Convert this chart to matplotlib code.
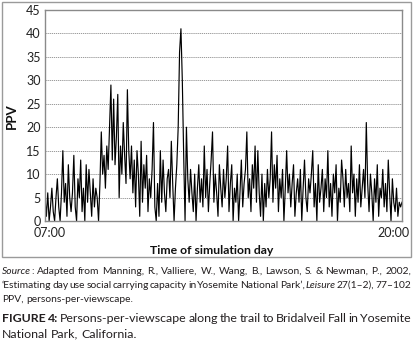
import numpy as np
import matplotlib.pyplot as plt
from matplotlib.patches import Rectangle
from matplotlib.transforms import ScaledTranslation

# persons-per-viewscape, one reading every 3 minutes from 07:00 to 20:00
ppv = [
    5, 1, 6, 0, 3, 7, 2, 0, 5, 9,
    3, 0, 6, 15, 4, 8, 1, 12, 5, 2,
    6, 14, 3, 0, 9, 5, 13, 2, 7, 0,
    12, 4, 11, 6, 1, 9, 3, 7, 5, 0,
    8, 19, 10, 14, 7, 16, 11, 20, 29, 13,
    26, 12, 18, 27, 5, 16, 10, 21, 14, 8,
    28, 15, 9, 16, 6, 13, 3, 15, 10, 1,
    17, 4, 12, 7, 14, 2, 9, 5, 11, 21,
    3, 0, 8, 1, 15, 4, 13, 6, 2, 9,
    11, 5, 17, 8, 0, 7, 12, 20, 36, 41,
    30, 14, 0, 20, 9, 4, 11, 6, 2, 10,
    0, 7, 12, 4, 9, 3, 16, 5, 11, 2,
    8, 13, 19, 4, 10, 6, 1, 12, 7, 3,
    11, 5, 9, 16, 2, 8, 12, 0, 7, 4,
    10, 0, 6, 13, 3, 8, 11, 19, 5, 9,
    2, 12, 7, 16, 4, 15, 6, 1, 10, 0,
    8, 3, 11, 5, 9, 19, 4, 12, 7, 14,
    2, 9, 5, 11, 0, 7, 15, 6, 10, 3,
    8, 12, 1, 6, 9, 4, 11, 0, 7, 13,
    5, 2, 9, 6, 10, 15, 3, 8, 0, 12,
    4, 7, 11, 2, 9, 5, 15, 3, 8, 1,
    10, 6, 12, 0, 7, 4, 13, 9, 3, 11,
    5, 8, 2, 16, 6, 10, 1, 9, 4, 12,
    3, 7, 11, 5, 21, 8, 2, 10, 6, 0,
    9, 4, 12, 1, 7, 5, 11, 3, 8, 2,
    13, 6, 0, 9, 4, 2, 7, 1, 4, 3, 4,
]
start_min = 0      # 07:00
end_min = 780      # 20:00
step_min = 3
time_labels = ['07:00', '20:00']
y_ticks = [0, 5, 10, 15, 20, 25, 30, 35, 40, 45]

plt.rcParams['font.family'] = ['Lato', 'DejaVu Sans']

W, H = 413, 341
fig = plt.figure(figsize=(W / 100, H / 100), dpi=100)

def px(x, y):
    return x / W, 1 - y / H

# outer frame around the chart
fig.patches.append(Rectangle(px(2, 257), 409 / W, 255 / H, transform=fig.transFigure,
                             fill=False, edgecolor='#9a9a9a', lw=1))

l, t = px(45, 10)
r, b = px(402, 221)
ax = fig.add_axes([l, b, r - l, t - b])

minutes = np.arange(start_min, end_min + 1, step_min)
ax.plot(minutes, ppv, color='black', lw=0.85)

ax.set_xlim(start_min, end_min)
ax.set_ylim(0, 45)
ax.set_yticks(y_ticks)
ax.set_xticks([start_min, end_min])
ax.set_xticklabels(time_labels)
ax.tick_params(length=0, labelsize=9, colors='#222222')
ax.tick_params(axis='y', pad=3)
ax.tick_params(axis='x', pad=4)
for lab, dx in zip(ax.get_xticklabels(), [4.5, -8.5]):
    lab.set_transform(lab.get_transform() + ScaledTranslation(dx / 100, 0, fig.dpi_scale_trans))

ax.grid(axis='y', color='#8a8a8a', linestyle=(0, (1.5, 1)), lw=0.6)
for s in ax.spines.values():
    s.set_color('#8a8a8a')
    s.set_linewidth(1)

fig.text(*px(12, 116), 'PPV', rotation=90, ha='center', va='center',
         fontsize=9.5, fontweight='bold', color='#111111')
fig.text(*px(212, 250), 'Time of simulation day', ha='center', va='center',
         fontsize=8.8, fontweight='bold', color='#111111')

# caption, justified like the printed page
renderer = fig.canvas.get_renderer()
cap_color = '#231f20'

def caption_line(y, words, size, justify=True, x0=2, x1=411):
    arts = []
    for word in words:
        pieces = []
        for txt, kw in word:
            pieces.append(fig.text(0, 0, txt, fontsize=size, color=cap_color,
                                   ha='left', va='center', **kw))
        arts.append(pieces)
    widths = [[p.get_window_extent(renderer).width for p in w] for w in arts]
    total = sum(sum(w) for w in widths)
    if justify and len(arts) > 1:
        gap = (x1 - x0 - total) / (len(arts) - 1)
    else:
        gap = size * 100 / 72 * 0.25
    x = x0
    for pieces, ws in zip(arts, widths):
        for p, wd in zip(pieces, ws):
            p.set_position(px(x, y))
            x += wd
        x += gap

def words_of(text, **kw):
    return [[(w, kw)] for w in text.split(' ')]

reg = {}
ita = {'style': 'italic'}
bold = {'fontweight': 'bold'}

line1 = [[('Source', ita), (':', reg)]] + words_of(
    'Adapted from Manning, R., Valliere, W., Wang, B., Lawson, S. & Newman, P., 2002,')
line2 = words_of('\u2018Estimating day use social carrying capacity in Yosemite National Park\u2019,') + \
    [[('Leisure', ita)]] + words_of('27(1\u20132), 77\u2013102')
line3 = words_of('PPV, persons-per-viewscape.')
line4 = [[('FIGURE', bold)], [('4:', bold)]] + words_of(
    'Persons-per-viewscape along the trail to Bridalveil Fall in Yosemite')
line5 = words_of('National Park, California.')

caption_line(271, line1, 7.4)
caption_line(285, line2, 7.4)
caption_line(299, line3, 7.4, justify=False)
caption_line(319, line4, 8.9)
caption_line(334, line5, 8.9, justify=False)

fig.savefig('out.png', dpi=100)
